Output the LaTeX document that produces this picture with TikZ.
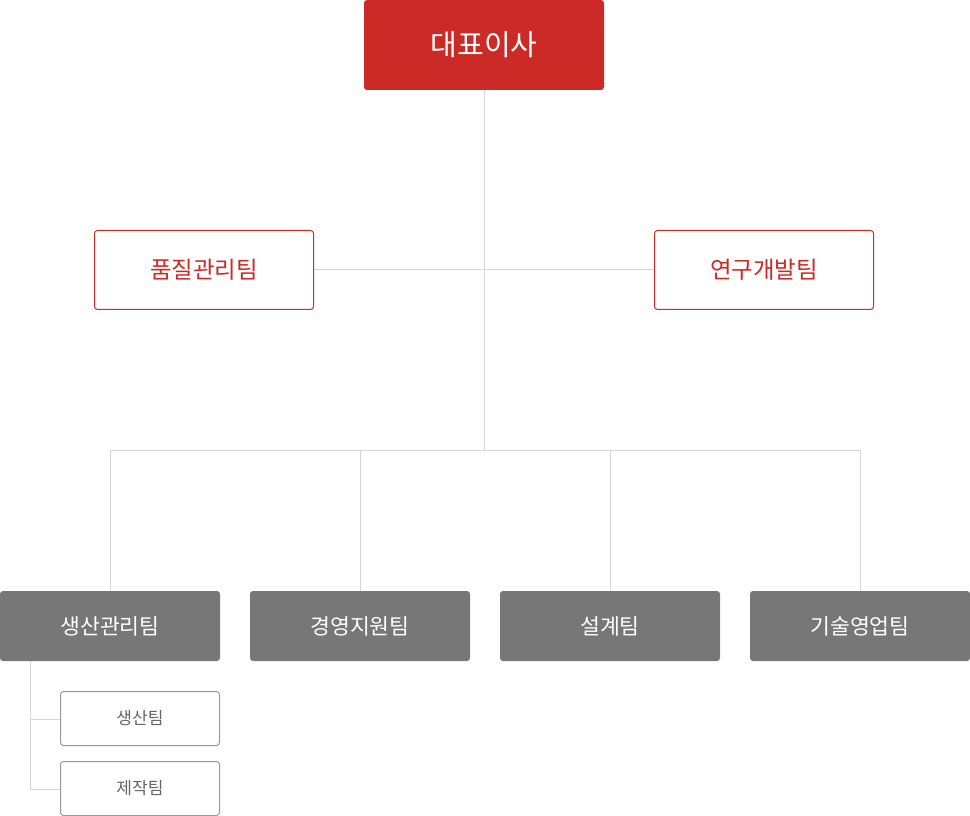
\documentclass[tikz,border=0pt]{standalone}
\usepackage{fontspec}
\setmainfont{Noto Sans CJK KR}
\definecolor{ceored}{HTML}{CC2A27}
\definecolor{teamgray}{HTML}{777777}
\definecolor{linegray}{HTML}{D6D6D6}
\definecolor{subgray}{HTML}{999999}
\definecolor{subtext}{HTML}{666666}
\tikzset{
  ceobox/.style={fill=ceored, text=white, rounded corners=2.25pt, minimum width=180pt, minimum height=67.5pt, inner sep=0pt, font=\fontsize{21.8}{24}\selectfont},
  redbox/.style={draw=ceored, line width=0.75pt, fill=white, text=ceored, rounded corners=2.25pt, minimum width=164.25pt, minimum height=59.25pt, inner sep=0pt, font=\fontsize{17.6}{20}\selectfont},
  graybox/.style={fill=teamgray, text=white, rounded corners=2.25pt, minimum width=165pt, minimum height=52.5pt, inner sep=0pt, font=\fontsize{16.2}{19}\selectfont},
  subbox/.style={draw=subgray, line width=0.75pt, fill=white, text=subtext, rounded corners=2.25pt, minimum width=119.25pt, minimum height=40.5pt, inner sep=0pt, font=\fontsize{12.8}{15}\selectfont},
  link/.style={draw=linegray, line width=0.75pt}
}
\begin{document}
\begin{tikzpicture}[x=0.75pt,y=0.75pt,yscale=-1]
\useasboundingbox (0,0) rectangle (970,816);
% connectors
\coordinate (hub) at (484,270);
\coordinate (bus) at (484,450);
\coordinate (sub) at (30,661);
\draw[link] (484,90) -- (bus);
\draw[link] (314,270) -- (654,270);
\draw[link] (110,450) -- (860,450);
\foreach \cx in {110,360,610,860}
  \draw[link] (\cx,450) -- (\cx,591);
\draw[link] (sub) -- (30,789) -- (60,789);
\draw[link] (30,719) -- (60,719);
% boxes
\node[ceobox] (ceo) at (484,45) {대표이사};
\node[redbox] (quality) at (204,270) {품질관리팀};
\node[redbox] (rnd) at (764,270) {연구개발팀};
\node[graybox] (prodmgmt) at (110,626) {생산관리팀};
\node[graybox] (support) at (360,626) {경영지원팀};
\node[graybox] (design) at (610,626) {설계팀};
\node[graybox] (sales) at (860,626) {기술영업팀};
\node[subbox] (prod) at (140,718.5) {생산팀};
\node[subbox] (make) at (140,788.5) {제작팀};
\end{tikzpicture}
\end{document}
